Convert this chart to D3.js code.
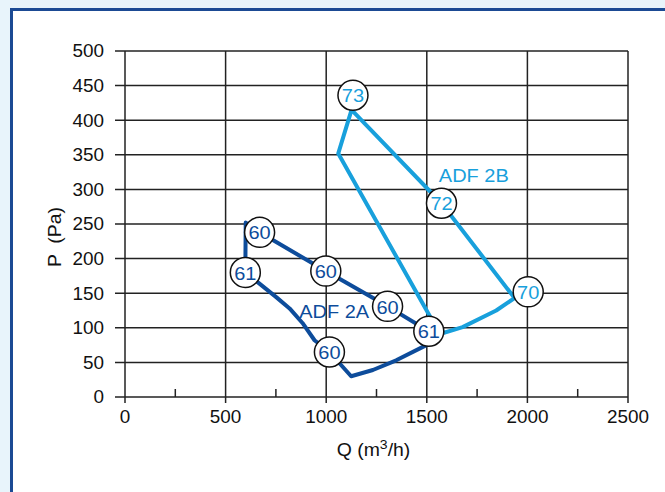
<!DOCTYPE html>
<html>
<head>
<meta charset="utf-8">
<script src="https://cdn.jsdelivr.net/npm/d3@7"></script>
<style>
  html, body { margin: 0; padding: 0; background: #e8f4fb; }
  svg { display: block; font-family: "Liberation Sans", Arial, Helvetica, sans-serif; }
</style>
</head>
<body>
<div id="chart-area"></div>
<script>
const WIDTH = 665;
const HEIGHT = 492;
const DARK_BLUE = '#0d4c9b';
const LIGHT_BLUE = '#18a0dc';
const FONT = 17.5;
const STRETCH = 1.08;

const xTicks = [0, 500, 1000, 1500, 2000, 2500];
const xMinorTicks = [250, 750, 1250, 1750, 2250];
const yTicks = [0, 50, 100, 150, 200, 250, 300, 350, 400, 450, 500];

// ADF 2A outline (Q, P), closed
const adf2aQ = [598, 600, 669, 998, 1305, 1510, 1498, 1348, 1232, 1124, 1016, 942, 882, 818, 753, 659, 598];
const adf2aP = [180, 252, 238, 182, 131, 95, 75, 53, 39, 30, 65, 82, 107, 128, 144, 166, 180];
// ADF 2A circle labels
const adf2aLabelQ = [669, 598, 998, 1305, 1510, 1016];
const adf2aLabelP = [238, 180, 182, 131, 95, 65];
const adf2aLabelText = ["60", "61", "60", "60", "61", "60"];

// ADF 2B outline, closed
const adf2bQ = [1126, 1060, 1565, 1678, 1845, 1936, 1573, 1126];
const adf2bP = [415, 352, 91, 101, 125, 143, 280, 415];
const adf2bLabelQ = [1133, 1573, 2004];
const adf2bLabelP = [436, 280, 152];
const adf2bLabelText = ["73", "72", "70"];

const margin = { top: 51, left: 125, right: 37, bottom: 95 };
const width = WIDTH - margin.left - margin.right;
const height = HEIGHT - margin.top - margin.bottom;

const svg = d3.select("#chart-area").append("svg")
    .attr("width", WIDTH)
    .attr("height", HEIGHT);

// panel
svg.append("rect")
    .attr("x", 11.5).attr("y", 9.5)
    .attr("width", 700).attr("height", 520)
    .attr("fill", "white")
    .attr("stroke", "#1b4a94")
    .attr("stroke-width", 3);

const g = svg.append("g")
    .attr("transform", "translate(" + margin.left + "," + margin.top + ")");

const x = d3.scaleLinear().domain([0, 2500]).range([0, width]);
const y = d3.scaleLinear().domain([0, 500]).range([height, 0]);

// text slightly wider than the installed fonts
function stretched(sel, tx, ty) {
    return sel.attr("transform", (d, i) => {
        const px = typeof tx === "function" ? tx(d, i) : tx;
        const py = typeof ty === "function" ? ty(d, i) : ty;
        return "translate(" + px + "," + py + ") scale(" + STRETCH + ",1)";
    });
}

// grid
g.selectAll("hgrid")
    .data(yTicks)
    .enter()
    .append("line")
    .attr("x1", -10)
    .attr("x2", width)
    .attr("y1", d => y(d))
    .attr("y2", d => y(d))
    .attr("stroke", "#222")
    .attr("stroke-width", 1.5);

g.selectAll("vgrid")
    .data(xTicks)
    .enter()
    .append("line")
    .attr("x1", d => x(d))
    .attr("x2", d => x(d))
    .attr("y1", 0)
    .attr("y2", height + 6)
    .attr("stroke", "#222")
    .attr("stroke-width", 1.5);

g.selectAll("minor")
    .data(xMinorTicks)
    .enter()
    .append("line")
    .attr("x1", d => x(d))
    .attr("x2", d => x(d))
    .attr("y1", height - 8)
    .attr("y2", height)
    .attr("stroke", "#222")
    .attr("stroke-width", 1.5);

// tick labels
stretched(g.selectAll("ylab")
    .data(yTicks)
    .enter()
    .append("text"), -21, d => y(d))
    .attr("dy", "0.36em")
    .attr("text-anchor", "end")
    .attr("font-size", FONT)
    .attr("fill", "#111")
    .text(d => d);

stretched(g.selectAll("xlab")
    .data(xTicks)
    .enter()
    .append("text"), d => x(d), height + 26)
    .attr("text-anchor", "middle")
    .attr("font-size", FONT)
    .attr("fill", "#111")
    .text(d => d);

// axis titles
const xt = stretched(svg.append("text"), margin.left + width / 2 - 3, 456)
    .attr("text-anchor", "middle")
    .attr("font-size", 18)
    .attr("fill", "#111");
xt.append("tspan").text("Q (m");
xt.append("tspan").attr("font-size", 13).attr("dy", -7).text("3");
xt.append("tspan").attr("dy", 7).text("/h)");

svg.append("text")
    .attr("transform", "translate(61,237) rotate(-90) scale(" + STRETCH + ",1)")
    .attr("text-anchor", "middle")
    .attr("font-size", 18)
    .attr("fill", "#111")
    .attr("xml:space", "preserve")
    .text("P  (Pa)");

const line = d3.line()
    .x(d => x(d[0]))
    .y(d => y(d[1]));

const adf2a = adf2aQ.map((q, i) => [q, adf2aP[i]]);
const adf2b = adf2bQ.map((q, i) => [q, adf2bP[i]]);

g.append("path")
    .datum(adf2b)
    .attr("fill", "none")
    .attr("stroke", LIGHT_BLUE)
    .attr("stroke-width", 4)
    .attr("stroke-linejoin", "round")
    .attr("d", line);

g.append("path")
    .datum(adf2a)
    .attr("fill", "none")
    .attr("stroke", DARK_BLUE)
    .attr("stroke-width", 4)
    .attr("stroke-linejoin", "round")
    .attr("d", line);

function drawLabels(qs, ps, texts, color) {
    const lab = g.selectAll(null)
        .data(qs.map((q, i) => ({ q: q, p: ps[i], t: texts[i] })))
        .enter()
        .append("g")
        .attr("transform", d => "translate(" + x(d.q) + "," + y(d.p) + ")");
    lab.append("circle")
        .attr("r", 15)
        .attr("fill", "white")
        .attr("stroke", "#111")
        .attr("stroke-width", 1.5);
    stretched(lab.append("text"), 0, 0.5)
        .attr("text-anchor", "middle")
        .attr("dy", "0.36em")
        .attr("font-size", 18.5)
        .attr("fill", color)
        .text(d => d.t);
}

drawLabels(adf2bLabelQ, adf2bLabelP, adf2bLabelText, LIGHT_BLUE);
drawLabels(adf2aLabelQ, adf2aLabelP, adf2aLabelText, DARK_BLUE);

// series names
stretched(g.append("text"), x(866), y(114))
    .attr("font-size", 18.5)
    .attr("fill", DARK_BLUE)
    .text("ADF 2A");

stretched(g.append("text"), x(1560), y(311))
    .attr("font-size", 18.5)
    .attr("fill", LIGHT_BLUE)
    .text("ADF 2B");
</script>
</body>
</html>
